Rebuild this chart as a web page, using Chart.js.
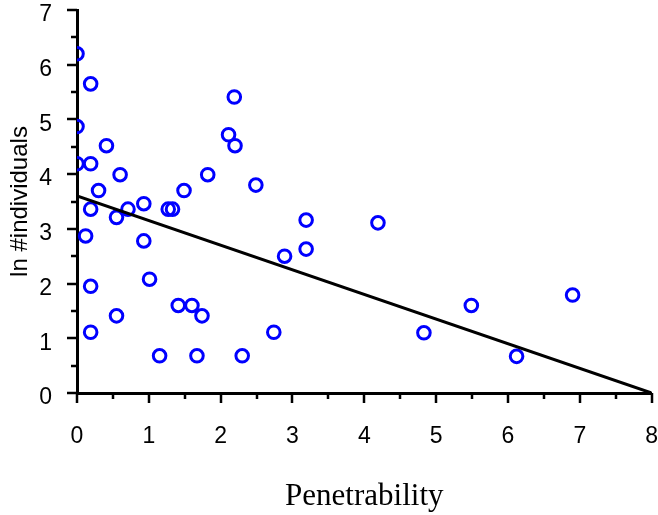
<!DOCTYPE html>
<html lang="en">
<head>
  <meta charset="UTF-8" />
  <title>ln #individuals vs Penetrability</title>
  <script src="https://cdn.jsdelivr.net/npm/chart.js"></script>
  <style>
    html, body { margin: 0; padding: 0; background: #fff; }
    #wrap { width: 658px; height: 515px; position: relative; }
  </style>
</head>
<body>
<div id="wrap"><canvas id="chart"></canvas></div>
<script>
  const penetrability = [
    0, 0.19, 0, 0.41, 0, 0.19, 0.30, 0.60, 0.19, 0.71,
    0.55, 0.93, 0.12, 0.93, 0.19, 1.01, 0.19, 0.55, 1.15, 1.27,
    1.33, 1.49, 1.41, 1.60, 1.74, 1.67, 1.82, 2.11, 2.19, 2.20,
    2.49, 2.30, 2.74, 2.89, 3.19, 3.19, 4.19, 4.83, 5.49, 6.12,
    6.90
  ];
  const lnIndividuals = [
    6.20, 5.65, 4.87, 4.52, 4.19, 4.19, 3.70, 3.99, 3.36, 3.36,
    3.21, 3.46, 2.87, 2.78, 1.95, 2.08, 1.11, 1.41, 0.68, 3.36,
    3.36, 3.70, 1.60, 1.60, 1.41, 0.68, 3.99, 4.72, 5.41, 4.52,
    3.80, 0.68, 1.11, 2.50, 3.16, 2.63, 3.11, 1.10, 1.60, 0.67,
    1.79
  ];

  // fitted line ends
  const fitX = [0, 8];
  const fitY = [3.6, 0];

  const xMin = 0, xMax = 8;
  const yMin = 0, yMax = 7;

  const points = penetrability.map((x, i) => ({ x: x, y: lnIndividuals[i] }));
  const fitLine = fitX.map((x, i) => ({ x: x, y: fitY[i] }));

  // tick marks outside the axes: long ones on whole numbers, short ones on halves
  const tickMarks = {
    id: 'tickMarks',
    afterDraw(chart) {
      const c = chart.ctx;
      const xs = chart.scales.x, ys = chart.scales.y;
      const area = chart.chartArea;
      c.save();
      c.strokeStyle = '#000';
      c.lineWidth = 2.5;
      c.beginPath();
      for (let v = xMin; v <= xMax; v += 0.5) {
        const px = Math.round(xs.getPixelForValue(v));
        const len = v % 1 === 0 ? 10 : 6;
        c.moveTo(px, area.bottom);
        c.lineTo(px, area.bottom + len);
      }
      for (let v = yMin; v <= yMax; v += 0.5) {
        const py = Math.round(ys.getPixelForValue(v));
        const len = v % 1 === 0 ? 10 : 6;
        c.moveTo(area.left, py);
        c.lineTo(area.left - len, py);
      }
      c.stroke();
      c.restore();
    }
  };

  new Chart(document.getElementById('chart'), {
    type: 'scatter',
    data: {
      datasets: [
        {
          label: 'fit',
          type: 'line',
          data: fitLine,
          borderColor: '#000',
          borderWidth: 3,
          pointRadius: 0,
          fill: false,
          tension: 0
        },
        {
          label: 'sites',
          data: points,
          pointStyle: 'circle',
          pointRadius: 6.3,
          pointHoverRadius: 6.3,
          borderWidth: 3,
          borderColor: '#0000ff',
          backgroundColor: 'rgba(0,0,0,0)'
        }
      ]
    },
    options: {
      responsive: true,
      maintainAspectRatio: false,
      animation: false,
      layout: {
        autoPadding: false,
        padding: { top: 10, right: 6, left: 0, bottom: 0 }
      },
      plugins: {
        legend: { display: false },
        tooltip: { enabled: false }
      },
      scales: {
        x: {
          type: 'linear',
          min: xMin,
          max: xMax,
          afterFit: (s) => { s.height = 122; },
          ticks: {
            stepSize: 1,
            color: '#000',
            padding: 0,
            font: { family: 'Liberation Sans, Arial, sans-serif', size: 23 }
          },
          grid: {
            drawOnChartArea: false,
            drawTicks: true,
            tickLength: 30,
            tickColor: 'rgba(0,0,0,0)'
          },
          border: { color: '#000', width: 3 },
          title: {
            display: true,
            text: 'Penetrability',
            color: '#000',
            padding: { top: 29, bottom: 0 },
            font: { family: 'Liberation Serif, Times New Roman, serif', size: 31 }
          }
        },
        y: {
          type: 'linear',
          min: yMin,
          max: yMax,
          afterFit: (s) => { s.width = 77; },
          ticks: {
            stepSize: 1,
            color: '#000',
            padding: 0,
            labelOffset: 5,
            font: { family: 'Liberation Sans, Arial, sans-serif', size: 23, lineHeight: 0.85 }
          },
          grid: {
            drawOnChartArea: false,
            drawTicks: true,
            tickLength: 25,
            tickColor: 'rgba(0,0,0,0)'
          },
          border: { color: '#000', width: 3 },
          title: {
            display: true,
            text: 'ln #individuals',
            color: '#000',
            padding: { top: 6, bottom: 6 },
            font: { family: 'Liberation Sans, Arial, sans-serif', size: 24 }
          }
        }
      }
    },
    plugins: [tickMarks]
  });
</script>
</body>
</html>
